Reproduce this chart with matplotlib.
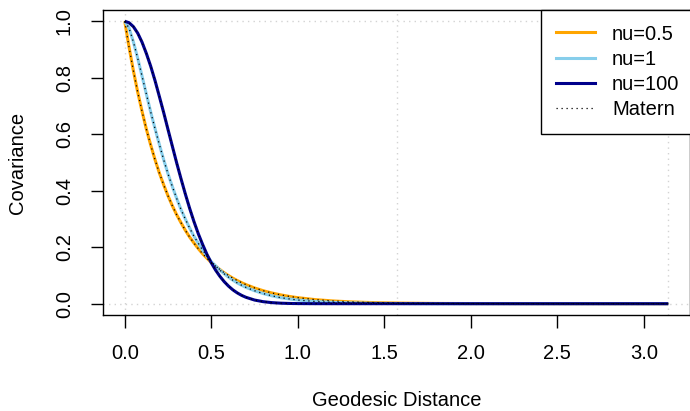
import matplotlib
matplotlib.use("Agg")
from matplotlib import pyplot as plt
from matplotlib.lines import Line2D

plt.rcParams['font.family'] = ['Liberation Sans', 'DejaVu Sans']

# geodesic distance (radians) and covariance values
dist = [0.0, 0.025, 0.05, 0.075, 0.1, 0.125, 0.15, 0.175, 0.2, 0.225, 0.25,
        0.275, 0.3, 0.325, 0.35, 0.375, 0.4, 0.425, 0.45, 0.475, 0.5,
        0.525, 0.55, 0.575, 0.6, 0.625, 0.65, 0.675, 0.7, 0.75, 0.8,
        0.85, 0.9, 0.95, 1.0, 1.1, 1.2, 1.3, 1.4, 1.5, 1.6,
        1.8, 2.0, 2.5, 3.1416]
cov_nu05 = [1.0, 0.908, 0.825, 0.749, 0.681, 0.618, 0.562, 0.510, 0.463, 0.421, 0.382,
            0.347, 0.315, 0.287, 0.260, 0.236, 0.215, 0.195, 0.177, 0.161, 0.146,
            0.133, 0.121, 0.1095, 0.0995, 0.0904, 0.0821, 0.0746, 0.0677, 0.0559, 0.0461,
            0.0380, 0.0314, 0.0259, 0.0214, 0.0145, 0.0099, 0.0067, 0.0046, 0.0031, 0.0021,
            0.0010, 0.0005, 0.0001, 0.0]
cov_nu1 = [1.0, 0.976, 0.927, 0.869, 0.806, 0.742, 0.679, 0.620, 0.564, 0.510, 0.460,
           0.415, 0.373, 0.334, 0.300, 0.268, 0.239, 0.214, 0.190, 0.169, 0.149,
           0.134, 0.119, 0.106, 0.094, 0.0833, 0.0737, 0.0655, 0.058, 0.046, 0.036,
           0.028, 0.0215, 0.017, 0.0131, 0.0079, 0.0048, 0.0028, 0.0017, 0.0010, 0.0006,
           0.0002, 0.0001, 0.0, 0.0]
cov_nu100 = [1.0, 0.995, 0.981, 0.958, 0.926, 0.886, 0.841, 0.790, 0.734, 0.677, 0.617,
             0.558, 0.499, 0.443, 0.389, 0.338, 0.291, 0.248, 0.210, 0.175, 0.145,
             0.119, 0.0969, 0.078, 0.0622, 0.049, 0.0384, 0.0297, 0.0228, 0.0130, 0.0072,
             0.0038, 0.0019, 0.0009, 0.0004, 0.0001, 0.0, 0.0, 0.0, 0.0, 0.0,
             0.0, 0.0, 0.0, 0.0]

series = [('nu=0.5', cov_nu05, '#FFA500'),
          ('nu=1', cov_nu1, '#87CEEB'),
          ('nu=100', cov_nu100, '#00008B')]

x_ticks = [0.0, 0.5, 1.0, 1.5, 2.0, 2.5, 3.0]
y_ticks = [0.0, 0.2, 0.4, 0.6, 0.8, 1.0]
grid_v = [0.0, 1.5708, 3.1416]
grid_h = [0.0, 1.0]

fig = plt.figure(figsize=(6.9, 4.11), dpi=100)
ax = fig.add_axes([103 / 690, (411 - 315) / 411, 587 / 690, 305 / 411])

for v in grid_v:
    ax.axvline(v, color='lightgray', lw=1, linestyle=(0, (1, 3)), zorder=1)
for h in grid_h:
    ax.axhline(h, color='lightgray', lw=1, linestyle=(0, (1, 3)), zorder=1)

for name, vals, col in series:
    ax.plot(dist, vals, color=col, lw=2.2, solid_capstyle='butt', zorder=2)
for name, vals, col in series:
    ax.plot(dist, vals, color='black', lw=0.9, linestyle=(0, (1, 3)), zorder=3)

ax.set_xlim(-0.04 * 3.1416, 1.04 * 3.1416)
ax.set_ylim(-0.04, 1.04)
ax.set_xticks(x_ticks)
ax.set_xticklabels(['%.1f' % t for t in x_ticks])
ax.set_yticks(y_ticks)
ax.set_yticklabels(['%.1f' % t for t in y_ticks])
ax.tick_params(length=9, width=1, labelsize=14.5, color='black')
ax.tick_params(axis='x', pad=12)
ax.tick_params(axis='y', pad=12)
plt.setp(ax.get_yticklabels(), rotation=90, va='center')
for s in ax.spines.values():
    s.set_linewidth(1)
    s.set_color('black')

ax.set_xlabel('Geodesic Distance', fontsize=14.5)
ax.set_ylabel('Covariance', fontsize=14.5)
ax.xaxis.set_label_coords(0.5, -0.279)
ax.xaxis.label.set_va('center')
ax.yaxis.set_label_coords(-0.145, 0.5)
ax.yaxis.label.set_va('center')

handles = [Line2D([], [], color=c, lw=2.2) for _, _, c in series]
handles.append(Line2D([], [], color='black', lw=0.9, linestyle=(0, (1, 3))))
labels = [n for n, _, _ in series] + ['Matern']
leg = ax.legend(handles, labels, loc='upper left', bbox_to_anchor=((541 - 103) / 587, 1.0),
                borderaxespad=0, fontsize=14.5, frameon=True, fancybox=False,
                framealpha=1, edgecolor='black', handlelength=1.95, handletextpad=0.85,
                borderpad=0.72, labelspacing=0.31)
leg.get_frame().set_linewidth(1)

fig.savefig('out.png', dpi=100)
